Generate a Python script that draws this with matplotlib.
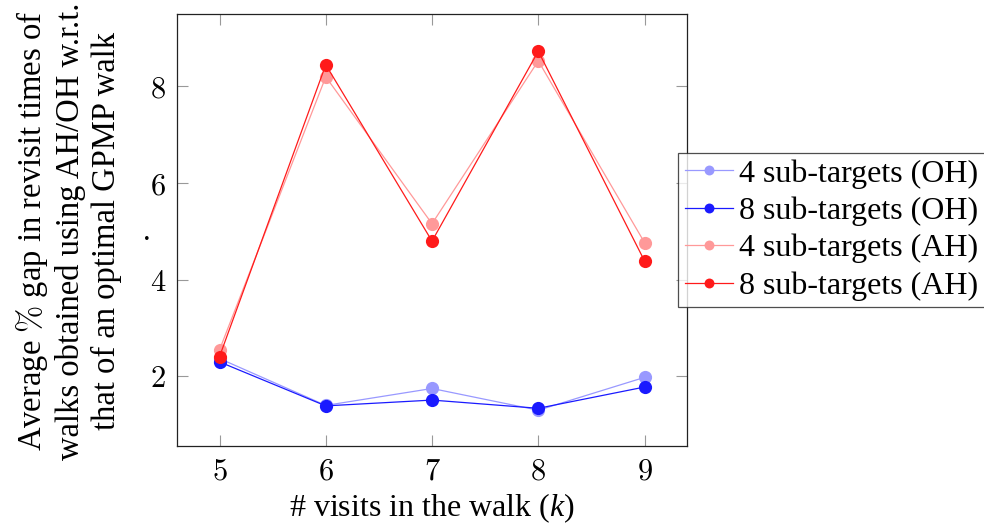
import matplotlib
matplotlib.use("Agg")
import matplotlib.pyplot as plt
from matplotlib.ticker import FixedLocator, FixedFormatter

plt.rcParams['font.family'] = ['Liberation Serif', 'DejaVu Serif']
plt.rcParams['mathtext.fontset'] = 'custom'
plt.rcParams['mathtext.rm'] = 'cmr10'
plt.rcParams['mathtext.it'] = 'Liberation Serif:italic'
plt.rcParams['axes.formatter.use_mathtext'] = True

k_values = [5, 6, 7, 8, 9]
oh_4 = [2.37, 1.40, 1.75, 1.30, 1.98]
oh_8 = [2.30, 1.39, 1.51, 1.34, 1.78]
ah_4 = [2.55, 8.20, 5.16, 8.53, 4.77]
ah_8 = [2.41, 8.45, 4.80, 8.73, 4.39]
labels = ["4 sub-targets (OH)", "8 sub-targets (OH)", "4 sub-targets (AH)", "8 sub-targets (AH)"]
colors = ["#9999ff", "#1a1aff", "#ff9999", "#ff1a1a"]
y_ticks = [2, 4, 6, 8]

fig = plt.figure(figsize=(9.84, 5.25), dpi=100)
ax = fig.add_axes([0.1799, 0.1505, 0.5183, 0.8228])

for series, lab, c in zip([oh_4, oh_8, ah_4, ah_8], labels, colors):
    ax.plot(k_values, series, color=c, lw=0.9, marker='o', markersize=9.5,
            markeredgewidth=0, label=lab)

ax.set_xlim(4.6, 9.4)
ax.set_ylim(0.56, 9.5)
ax.xaxis.set_major_locator(FixedLocator(k_values))
ax.xaxis.set_major_formatter(FixedFormatter([f"${v}$" for v in k_values]))
ax.yaxis.set_major_locator(FixedLocator(y_ticks))
ax.yaxis.set_major_formatter(FixedFormatter([f"${v}$" for v in y_ticks]))
ax.tick_params(direction='in', length=8, width=0.8, color='#999999',
               top=True, right=True, labelsize=22, pad=8)
for s in ax.spines.values():
    s.set_linewidth(0.9)
    s.set_color('#222222')

ax.set_xlabel("# visits in the walk ($k$)", fontsize=23, labelpad=4)
fig.text(68/984, 1 - 231/525,
         "Average $\\%$ gap in revisit times of\nwalks obtained using AH/OH w.r.t.\nthat of an optimal GPMP walk",
         fontsize=23.5, rotation=90, ha='center', va='center',
         multialignment='center', linespacing=1.2)
fig.text(147/984, 1 - 232/525, ".", fontsize=22, ha='center', va='center')

leg = ax.legend(loc='center left', bbox_to_anchor=(0.983, 0.5), fontsize=23,
                frameon=True, fancybox=False, edgecolor='#222222',
                handlelength=1.5, handletextpad=0.2, borderpad=0.2,
                labelspacing=0.25, markerscale=0.75, borderaxespad=0)
leg.get_frame().set_linewidth(0.9)

fig.savefig("out.png", dpi=100)
